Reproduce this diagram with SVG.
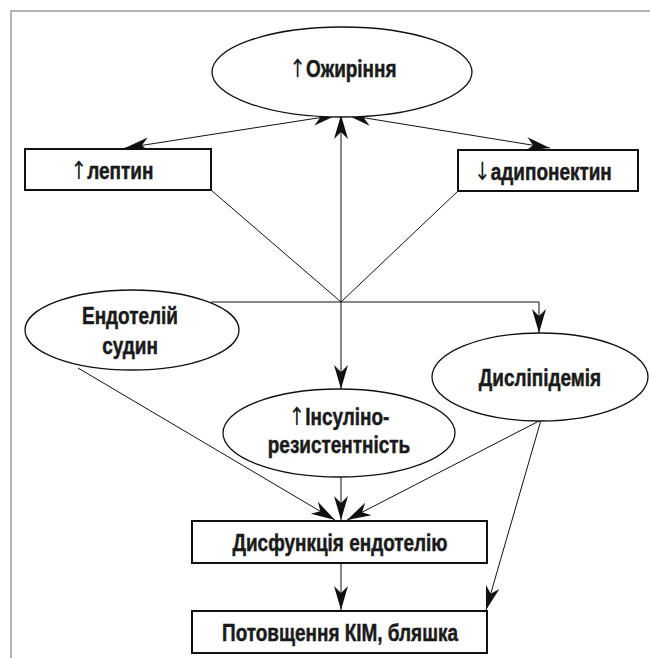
<svg xmlns="http://www.w3.org/2000/svg" width="650" height="658" viewBox="0 0 650 658">
<style>
.frame{stroke:#9a9a9a;stroke-width:1.5;fill:none}
.node{fill:#fff;stroke:#111;stroke-width:1.3}
.box{fill:#fff;stroke:#111;stroke-width:2}
.lbl{font-family:"Liberation Sans",Arial,sans-serif;font-weight:bold;font-size:24px;fill:#1a1a1a;stroke:#1a1a1a;stroke-width:0.5;text-anchor:middle}
.ar{font-family:"DejaVu Sans",sans-serif;font-weight:normal;font-size:25px;stroke:none}
.c{stroke:#111;stroke-width:1;fill:none}
.ca{stroke:#111;stroke-width:1;fill:none;marker-end:url(#ah)}
.cb{stroke:#111;stroke-width:1;fill:none;marker-end:url(#ah);marker-start:url(#ah)}
</style>
<defs>
<marker id="ah" markerUnits="userSpaceOnUse" markerWidth="26" markerHeight="16" refX="24" refY="8" orient="auto-start-reverse" viewBox="0 0 26 16" overflow="visible">
<path d="M0,1 L24,8 L0,15 L7,8 Z" fill="#111"/>
</marker>
</defs>
<rect width="650" height="658" fill="#fff"/>
<path class="frame" d="M11,658 V11 H650"/>
<g id="connectors">
<line class="cb" x1="337" y1="115" x2="125" y2="148"/>
<line class="cb" x1="347" y1="115" x2="550" y2="148"/>
<line class="ca" x1="341" y1="302" x2="341" y2="115"/>
<line class="c" x1="211" y1="190" x2="341" y2="302"/>
<line class="c" x1="458" y1="191" x2="341" y2="302"/>
<polyline class="ca" points="211,302 539,302 539,333"/>
<line class="ca" x1="341" y1="302" x2="341" y2="389"/>
<line class="ca" x1="78" y1="368" x2="335" y2="520"/>
<line class="ca" x1="341" y1="477" x2="341" y2="520"/>
<line class="ca" x1="541" y1="420" x2="347" y2="520"/>
<line class="ca" x1="541" y1="420" x2="486" y2="610"/>
<line class="ca" x1="341" y1="563" x2="341" y2="610"/>
</g>
<g id="ozhyrinnia">
<ellipse class="node" cx="342" cy="72" rx="130" ry="45"/>
<text class="lbl" transform="translate(343 77) scale(0.79 1)"><tspan class="ar">↑</tspan>Ожиріння</text>
</g>
<g id="leptyn">
<rect class="box" x="25" y="149" width="186" height="41"/>
<text class="lbl" transform="translate(112 179) scale(0.79 1)"><tspan class="ar">↑</tspan>лептин</text>
</g>
<g id="adyponektyn">
<rect class="box" x="458" y="150" width="180" height="41"/>
<text class="lbl" transform="translate(543 180) scale(0.79 1)"><tspan class="ar">↓</tspan>адипонектин</text>
</g>
<g id="endotelii">
<ellipse class="node" cx="132" cy="330" rx="107" ry="40"/>
<text class="lbl" transform="translate(130 324) scale(0.79 1)">Ендотелій</text>
<text class="lbl" transform="translate(130 354) scale(0.79 1)">судин</text>
</g>
<g id="insulino">
<ellipse class="node" cx="339" cy="433" rx="116" ry="44"/>
<text class="lbl" transform="translate(339 425) scale(0.79 1)"><tspan class="ar">↑</tspan>Інсуліно-</text>
<text class="lbl" transform="translate(339 453) scale(0.79 1)">резистентність</text>
</g>
<g id="dyslipidemiia">
<ellipse class="node" cx="540" cy="377" rx="108" ry="44"/>
<text class="lbl" transform="translate(540 386) scale(0.79 1)">Дисліпідемія</text>
</g>
<g id="dysfunktsiia">
<rect class="box" x="192" y="521" width="295" height="42"/>
<text class="lbl" transform="translate(340 551) scale(0.79 1)">Дисфункція ендотелію</text>
</g>
<g id="potovshchennia">
<rect class="box" x="192" y="611" width="295" height="42"/>
<text class="lbl" transform="translate(340 641) scale(0.79 1)">Потовщення КІМ, бляшка</text>
</g>
</svg>
